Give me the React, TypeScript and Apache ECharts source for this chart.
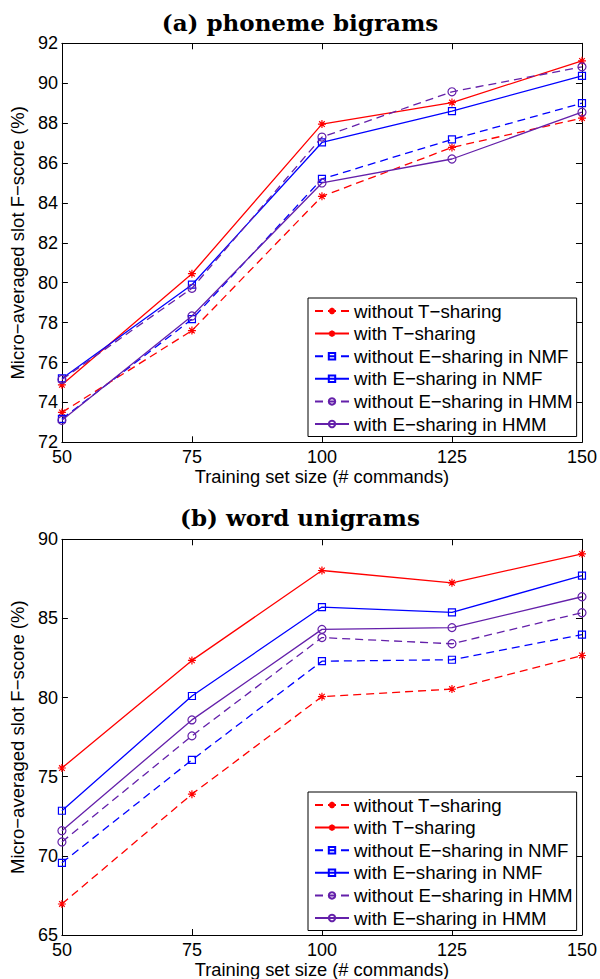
import React, { useEffect, useRef } from "react";
import * as echarts from "echarts";

const trainingSizes = [50, 75, 100, 125, 150];
const seriesNames = [
  "without T\u2212sharing",
  "with T\u2212sharing",
  "without E\u2212sharing in NMF",
  "with E\u2212sharing in NMF",
  "without E\u2212sharing in HMM",
  "with E\u2212sharing in HMM",
];

// (a) phoneme bigrams
const phonemeWithoutT = [73.5, 77.6, 84.33, 86.78, 88.25];
const phonemeWithT = [74.88, 80.45, 87.95, 89.03, 91.12];
const phonemeWithoutENmf = [73.17, 78.17, 85.2, 87.18, 89.0];
const phonemeWithENmf = [75.2, 79.9, 87.03, 88.6, 90.37];
const phonemeWithoutEHmm = [75.15, 79.72, 87.3, 89.57, 90.82];
const phonemeWithEHmm = [73.1, 78.33, 85.0, 86.2, 88.55];

// (b) word unigrams
const wordWithoutT = [66.96, 73.9, 80.06, 80.54, 82.66];
const wordWithT = [75.55, 82.35, 88.03, 87.25, 89.08];
const wordWithoutENmf = [69.56, 76.06, 82.3, 82.39, 83.98];
const wordWithENmf = [72.85, 80.1, 85.72, 85.38, 87.71];
const wordWithoutEHmm = [70.88, 77.58, 83.79, 83.4, 85.36];
const wordWithEHmm = [71.59, 78.59, 84.31, 84.42, 86.37];

const xTicks = [50, 75, 100, 125, 150];

const RED = "#ff0000";
const BLUE = "#0000ff";
const PURPLE = "#6420aa";
const SANS = "'Liberation Sans', Arial, Helvetica, sans-serif";
const SERIF = "'DejaVu Serif', serif";

const ASTERISK =
  "path://M5,0 L5,10 M0,5 L10,5 M1.5,1.5 L8.5,8.5 M1.5,8.5 L8.5,1.5";

const styles = [
  { color: RED, dashed: true, symbol: ASTERISK, size: 8 },
  { color: RED, dashed: false, symbol: ASTERISK, size: 8 },
  { color: BLUE, dashed: true, symbol: "rect", size: 7 },
  { color: BLUE, dashed: false, symbol: "rect", size: 7 },
  { color: PURPLE, dashed: true, symbol: "circle", size: 8 },
  { color: PURPLE, dashed: false, symbol: "circle", size: 8 },
];

function makeSeries(panel: number, values: number[][]) {
  return values.map((vals, i) => {
    const st = styles[i];
    return {
      type: "line",
      name: seriesNames[i],
      xAxisIndex: panel * 2,
      yAxisIndex: panel * 2,
      data: trainingSizes.map((x, k) => [x, vals[k]]),
      symbol: st.symbol,
      symbolSize: st.size,
      showAllSymbol: true,
      lineStyle: {
        color: st.color,
        width: 1.3,
        type: st.dashed ? [8, 5] : "solid",
      },
      itemStyle: {
        color: st.symbol === ASTERISK ? st.color : "transparent",
        borderColor: st.color,
        borderWidth: 1.2,
      },
      emphasis: { disabled: true },
      z: 2 + i,
    };
  });
}

function makeAxes(panel: number, min: number, max: number, interval: number) {
  const common = {
    axisLine: { show: true, onZero: false, lineStyle: { color: "#000", width: 1 } },
    axisTick: { show: true, inside: true, length: 6, lineStyle: { color: "#000" } },
    splitLine: { show: false },
  };
  const xAxes = [
    {
      type: "value",
      gridIndex: panel,
      position: "bottom",
      min: 50,
      max: 150,
      interval: 25,
      name: "Training set size (# commands)",
      nameLocation: "middle",
      nameGap: 25,
      nameTextStyle: { fontSize: 18.3, color: "#000", fontFamily: SANS },
      axisLabel: {
        fontSize: 18,
        color: "#000",
        fontFamily: SANS,
        margin: 6,
        formatter: (v: number) => (xTicks.includes(v) ? String(v) : ""),
      },
      ...common,
    },
    {
      type: "value",
      gridIndex: panel,
      position: "top",
      min: 50,
      max: 150,
      interval: 25,
      axisLabel: { show: false },
      ...common,
    },
  ];
  const yAxes = [
    {
      type: "value",
      gridIndex: panel,
      position: "left",
      min,
      max,
      interval,
      name: "Micro\u2212averaged slot F\u2212score (%)",
      nameLocation: "middle",
      nameGap: 31,
      nameTextStyle: { fontSize: 18.5, color: "#000", fontFamily: SANS },
      axisLabel: { fontSize: 18, color: "#000", fontFamily: SANS, margin: 4 },
      ...common,
    },
    {
      type: "value",
      gridIndex: panel,
      position: "right",
      min,
      max,
      interval,
      axisLabel: { show: false },
      ...common,
    },
  ];
  return { xAxes, yAxes };
}

function makeLegend(top: number) {
  return {
    orient: "vertical",
    left: 308,
    top,
    itemWidth: 34,
    itemHeight: 8,
    itemGap: 3.6,
    padding: [3.5, 4, 3, 6],
    borderColor: "#000",
    borderWidth: 1,
    backgroundColor: "#fff",
    selectedMode: false,
    textStyle: { fontSize: 18.7, lineHeight: 18, color: "#000", fontFamily: SANS },
    data: seriesNames,
  };
}

export default function App() {
  const ref = useRef<HTMLDivElement>(null);
  useEffect(() => {
    if (!ref.current) return;
    const chart = echarts.init(ref.current, undefined, { renderer: "svg" });
    const a = makeAxes(0, 72, 92, 2);
    const b = makeAxes(1, 65, 90, 5);
    chart.setOption({
      animation: false,
      backgroundColor: "#fff",
      title: [
        {
          text: "(a) phoneme bigrams",
          left: "center",
          top: 6,
          textStyle: { fontSize: 23, fontWeight: "bold", color: "#000", fontFamily: SERIF },
        },
        {
          text: "(b) word unigrams",
          left: "center",
          top: 501,
          textStyle: { fontSize: 23, fontWeight: "bold", color: "#000", fontFamily: SERIF },
        },
      ],
      grid: [
        { left: 57, top: 43.3, width: 526, height: 399, containLabel: false },
        { left: 57, top: 539.3, width: 526, height: 397.4, containLabel: false },
      ],
      xAxis: [...a.xAxes, ...b.xAxes],
      yAxis: [...a.yAxes, ...b.yAxes],
      legend: [makeLegend(298), makeLegend(792)],
      series: [
        ...makeSeries(0, [
          phonemeWithoutT,
          phonemeWithT,
          phonemeWithoutENmf,
          phonemeWithENmf,
          phonemeWithoutEHmm,
          phonemeWithEHmm,
        ]),
        ...makeSeries(1, [
          wordWithoutT,
          wordWithT,
          wordWithoutENmf,
          wordWithENmf,
          wordWithoutEHmm,
          wordWithEHmm,
        ]),
      ],
    });
    return () => chart.dispose();
  }, []);
  return (
    <div
      ref={ref}
      style={{ position: "absolute", left: 0, top: 0, width: 600, height: 979 }}
    />
  );
}
